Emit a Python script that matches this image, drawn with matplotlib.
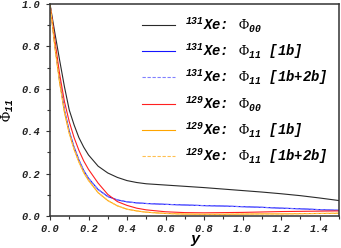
import numpy as np
import matplotlib
matplotlib.use("Agg")
import matplotlib.pyplot as plt
from matplotlib.ticker import MultipleLocator

plt.rcParams['mathtext.fontset'] = 'custom'
plt.rcParams['mathtext.rm'] = 'Liberation Mono:italic:bold'
plt.rcParams['mathtext.it'] = 'Liberation Mono:italic:bold'
plt.rcParams['mathtext.bf'] = 'Liberation Mono:italic:bold'
plt.rcParams['mathtext.sf'] = 'Liberation Serif'

# data
y_vals = [0, 0.025, 0.05, 0.075, 0.1, 0.125, 0.15, 0.175, 0.2, 0.25, 0.3, 0.35, 0.4,
          0.45, 0.5, 0.6, 0.7, 0.8, 0.9, 1.0, 1.1, 1.2, 1.3, 1.4, 1.5]
xe131_phi00 = [1.0, 0.865, 0.735, 0.61, 0.50, 0.43, 0.37, 0.325, 0.288, 0.235, 0.203, 0.182, 0.167,
               0.158, 0.152, 0.146, 0.14, 0.134, 0.127, 0.12, 0.113, 0.105, 0.096, 0.085, 0.073]
xe131_phi11_1b = [1.0, 0.81, 0.64, 0.50, 0.40, 0.325, 0.265, 0.215, 0.178, 0.125, 0.092, 0.076, 0.067,
                  0.062, 0.059, 0.055, 0.052, 0.049, 0.047, 0.044, 0.041, 0.037, 0.034, 0.030, 0.027]
xe131_phi11_2b = [1.0, 0.81, 0.64, 0.50, 0.40, 0.325, 0.265, 0.215, 0.178, 0.125, 0.092, 0.076, 0.067,
                  0.062, 0.059, 0.055, 0.052, 0.049, 0.047, 0.044, 0.041, 0.037, 0.034, 0.030, 0.027]
xe129_phi00 = [1.0, 0.83, 0.67, 0.54, 0.445, 0.37, 0.31, 0.26, 0.22, 0.155, 0.102, 0.068, 0.05,
               0.037, 0.029, 0.02, 0.016, 0.015, 0.016, 0.017, 0.019, 0.021, 0.022, 0.023, 0.024]
xe129_phi11_1b = [1.0, 0.80, 0.63, 0.49, 0.39, 0.315, 0.255, 0.205, 0.168, 0.11, 0.073, 0.048, 0.032,
                  0.024, 0.018, 0.012, 0.009, 0.008, 0.008, 0.009, 0.010, 0.010, 0.011, 0.012, 0.013]
xe129_phi11_2b = [1.0, 0.80, 0.63, 0.49, 0.39, 0.315, 0.255, 0.205, 0.168, 0.11, 0.073, 0.048, 0.032,
                  0.024, 0.018, 0.012, 0.009, 0.008, 0.008, 0.009, 0.010, 0.010, 0.011, 0.012, 0.013]

labels = [r"$^{131}Xe\!:\ \ \ \mathsf{\Phi}_{00}$",
          r"$^{131}Xe\!:\ \ \ \mathsf{\Phi}_{11}\quad[1b]$",
          r"$^{131}Xe\!:\ \ \ \mathsf{\Phi}_{11}\quad[1b{+}2b]$",
          r"$^{129}Xe\!:\ \ \ \mathsf{\Phi}_{00}$",
          r"$^{129}Xe\!:\ \ \ \mathsf{\Phi}_{11}\quad[1b]$",
          r"$^{129}Xe\!:\ \ \ \mathsf{\Phi}_{11}\quad[1b{+}2b]$"]

fig = plt.figure(figsize=(3.41, 2.48), dpi=100)
ax = fig.add_axes([0.1466, 0.129, 0.847, 0.855])

ax.plot(y_vals, xe131_phi00, color='#2a2a2a', lw=0.8, label=labels[0])
ax.plot(y_vals, xe131_phi11_1b, color='#1515ff', lw=0.8, label=labels[1])
ax.plot(y_vals, xe131_phi11_2b, color='#8080ff', lw=0.8, ls=(0, (3, 1.5)), label=labels[2])
ax.plot(y_vals, xe129_phi00, color='#ff2020', lw=0.8, label=labels[3])
ax.plot(y_vals, xe129_phi11_1b, color='#ffa500', lw=0.8, label=labels[4])
ax.plot(y_vals, xe129_phi11_2b, color='#ffc050', lw=0.8, ls=(0, (3, 1.5)), label=labels[5])

ax.set_xlim(0, 1.5)
ax.set_ylim(0, 1.0)
ax.xaxis.set_major_locator(MultipleLocator(0.2))
ax.xaxis.set_minor_locator(MultipleLocator(0.1))
ax.yaxis.set_major_locator(MultipleLocator(0.2))
ax.yaxis.set_minor_locator(MultipleLocator(0.1))
ax.tick_params(which='both', direction='out', width=0.8, color='#333333', labelcolor='#222222')
ax.tick_params(which='major', length=3)
ax.tick_params(which='minor', length=2.5)
ax.tick_params(axis='y', pad=4)
ax.tick_params(axis='x', pad=3)
for lab in ax.get_xticklabels() + ax.get_yticklabels():
    lab.set_fontfamily('Liberation Mono')
    lab.set_fontstyle('italic')
    lab.set_fontweight('bold')
    lab.set_fontsize(7.5)
for sp in ax.spines.values():
    sp.set_linewidth(1.1)
    sp.set_color('#333333')

ax.set_xlabel('y', fontfamily='Liberation Mono', fontstyle='italic', fontweight='bold',
              fontsize=11, labelpad=-1.5)
ax.set_ylabel(r"$\mathsf{\Phi}_{11}$", fontsize=10, labelpad=4)

ax.legend(loc='upper right', frameon=False, fontsize=10, handlelength=2.4,
          handletextpad=0.7, labelspacing=0.5, borderaxespad=0.4,
          bbox_to_anchor=(1.0, 1.0))

fig.savefig('out.png', dpi=100)
